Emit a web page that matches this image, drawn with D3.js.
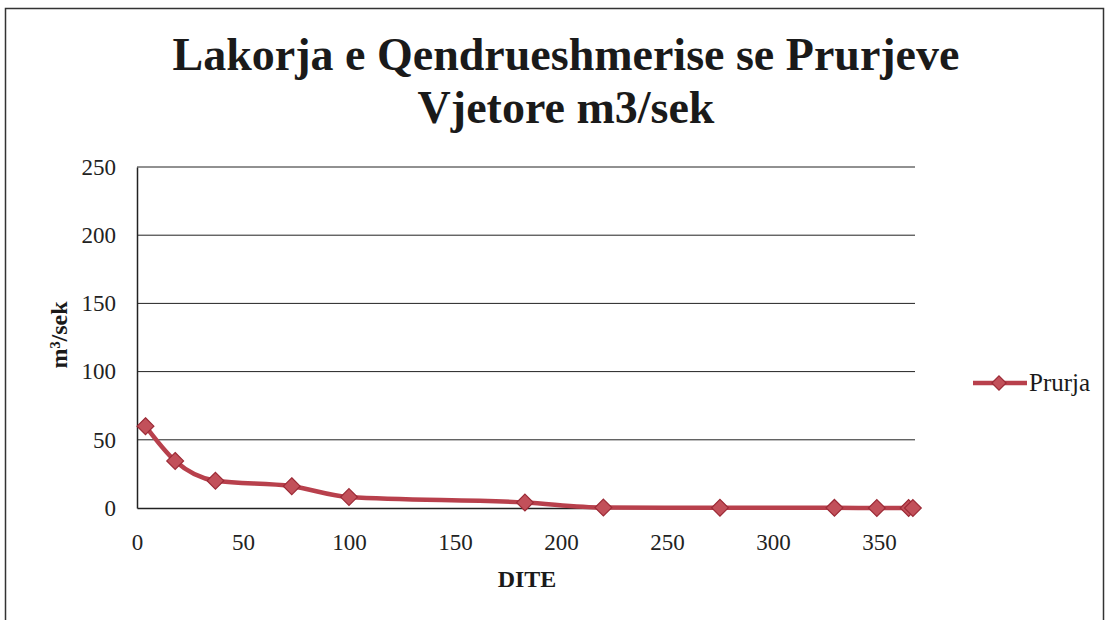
<!DOCTYPE html>
<html>
<head>
<meta charset="utf-8">
<script src="https://cdn.jsdelivr.net/npm/d3@7"></script>
<style>
  body { margin: 0; background: #fff; }
  svg { display: block; }
  svg text { font-family: "Liberation Serif", "Times New Roman", serif; }
</style>
</head>
<body>
<div id="chart"></div>
<script>
// Data
const days = [4, 18, 37, 73, 100, 183, 220, 275, 329, 349, 364, 366];
const flow = [60, 34.5, 20, 16, 8, 4, 0.3, 0.2, 0.1, 0, 0, 0];
const yTicks = [0, 50, 100, 150, 200, 250];
const xTicks = [0, 50, 100, 150, 200, 250, 300, 350];
const seriesName = "Prurja";
const titleLines = ["Lakorja e Qendrueshmerise se Prurjeve", "Vjetore m3/sek"];

const width = 1108;
const height = 620;
const margin = {top: 167, right: 193, bottom: 112, left: 137};
const serif = "Liberation Serif";
const red = "#b8404c";

const svg = d3.select("#chart")
    .append("svg")
    .attr("width", width)
    .attr("height", height);

// Outer frame
svg.append("rect")
    .attr("x", 5.5)
    .attr("y", 8.5)
    .attr("width", 1098)
    .attr("height", 640)
    .attr("fill", "none")
    .attr("stroke", "#333")
    .attr("stroke-width", 1.5);

const xScale = d3.scaleLinear()
    .domain([0, 367])
    .range([margin.left, width - margin.right]);

const yScale = d3.scaleLinear()
    .domain([0, 250])
    .range([height - margin.bottom, margin.top]);

// Title
svg.append("text")
    .attr("text-anchor", "middle")
    .attr("font-family", serif)
    .attr("font-weight", "bold")
    .attr("font-size", 46)
    .attr("fill", "#1a1a1a")
    .selectAll("tspan")
    .data(titleLines)
    .join("tspan")
    .attr("x", 566)
    .attr("y", (d, i) => 70 + i * 53)
    .text(d => d);

// Gridlines
svg.append("g")
    .selectAll("line")
    .data(yTicks.filter(d => d > 0))
    .join("line")
    .attr("x1", margin.left)
    .attr("x2", width - margin.right)
    .attr("y1", d => yScale(d))
    .attr("y2", d => yScale(d))
    .attr("stroke", "#222")
    .attr("stroke-width", 1);

// Y axis
const yAxis = svg.append("g")
    .attr("transform", `translate(${margin.left},0)`)
    .call(d3.axisLeft(yScale).tickValues(yTicks).tickSize(0).tickPadding(21));
yAxis.select(".domain").attr("stroke", "#222").attr("stroke-width", 1.5);
yAxis.selectAll("text")
    .attr("font-family", serif)
    .attr("font-size", 23)
    .attr("fill", "#222");

// X axis
const xAxis = svg.append("g")
    .attr("transform", `translate(0,${yScale(0)})`)
    .call(d3.axisBottom(xScale).tickValues(xTicks).tickSize(0).tickPadding(26));
xAxis.select(".domain").attr("stroke", "#222").attr("stroke-width", 1.5);
xAxis.selectAll("text")
    .attr("font-family", serif)
    .attr("font-size", 23)
    .attr("fill", "#222");

// Axis titles
svg.append("text")
    .attr("x", 527)
    .attr("y", 587)
    .attr("text-anchor", "middle")
    .attr("font-family", serif)
    .attr("font-weight", "bold")
    .attr("font-size", 24)
    .attr("fill", "#1a1a1a")
    .text("DITE");

svg.append("text")
    .attr("transform", "translate(67,335) rotate(-90)")
    .attr("text-anchor", "middle")
    .attr("font-family", serif)
    .attr("font-weight", "bold")
    .attr("font-size", 24)
    .attr("fill", "#1a1a1a")
    .text("m³/sek");

// Series
const points = days.map((d, i) => ({x: d, y: flow[i]}));

const line = d3.line()
    .x(d => xScale(d.x))
    .y(d => yScale(d.y))
    .curve(d3.curveMonotoneX);

svg.append("path")
    .datum(points)
    .attr("fill", "none")
    .attr("stroke", red)
    .attr("stroke-width", 4.5)
    .attr("d", line);

const diamond = d3.symbol().type(d3.symbolDiamond2).size(180);

svg.append("g")
    .selectAll("path")
    .data(points)
    .join("path")
    .attr("transform", d => `translate(${xScale(d.x)},${yScale(d.y)})`)
    .attr("d", diamond)
    .attr("fill", "#c2505a")
    .attr("stroke", "#9c2a36")
    .attr("stroke-width", 1.2);

// Legend
const legend = svg.append("g").attr("transform", "translate(973,383)");
legend.append("line")
    .attr("x1", 0)
    .attr("x2", 54)
    .attr("stroke", red)
    .attr("stroke-width", 4.5);
legend.append("path")
    .attr("transform", "translate(26,0)")
    .attr("d", d3.symbol().type(d3.symbolDiamond2).size(130))
    .attr("fill", "#c2505a")
    .attr("stroke", "#9c2a36")
    .attr("stroke-width", 1.2);
legend.append("text")
    .attr("x", 56)
    .attr("y", 8)
    .attr("font-family", serif)
    .attr("font-size", 25)
    .attr("fill", "#1a1a1a")
    .text(seriesName);
</script>
</body>
</html>
